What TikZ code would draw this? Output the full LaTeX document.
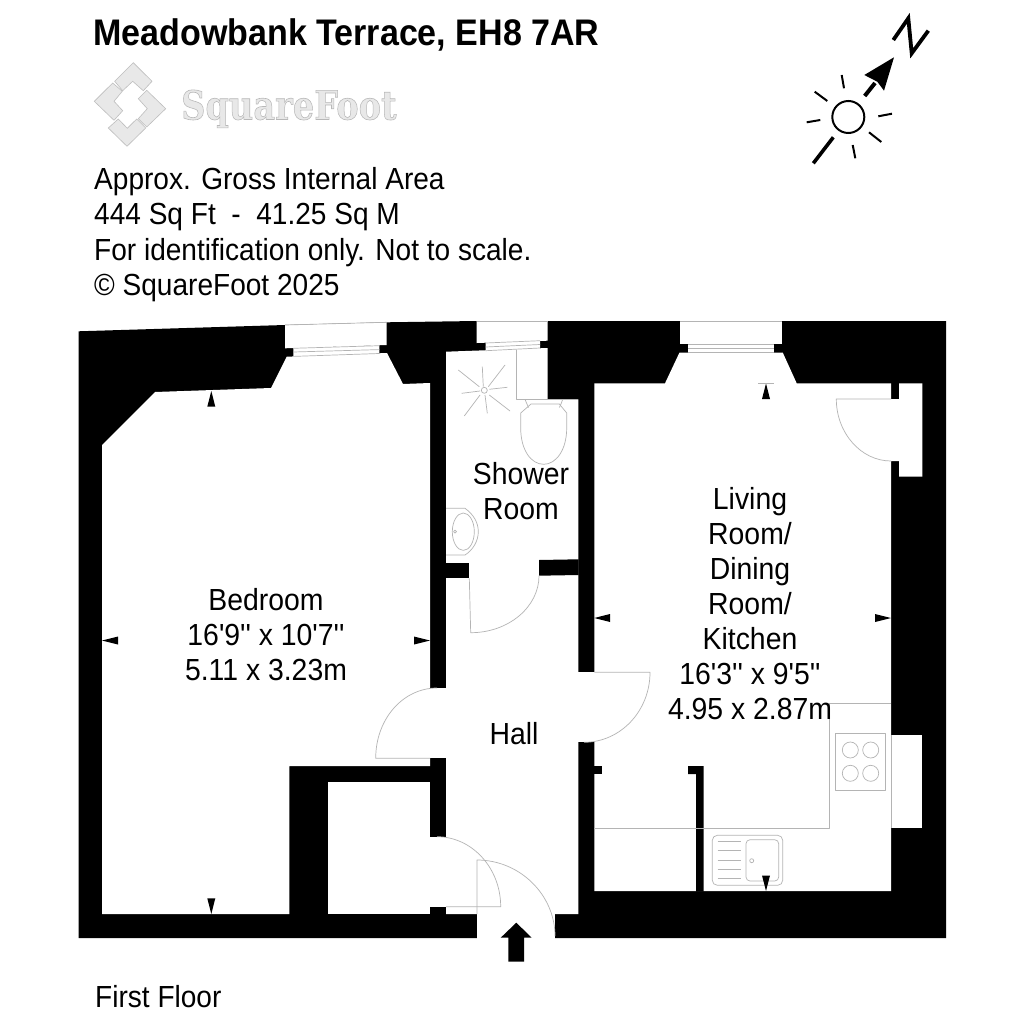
\documentclass[tikz,border=0pt]{standalone}
\usepackage{fontspec}
\setmainfont{Liberation Sans}
\newfontfamily\lab{Liberation Sans}
\newfontfamily\logofont{DejaVu Serif}
\definecolor{fixt}{HTML}{B4B4B4}
\definecolor{logofill}{HTML}{E8E8E8}
\definecolor{logoline}{HTML}{BEBEBE}
\newcommand{\lb}[1]{\scalebox{0.93}[1]{#1}}
\newcommand{\hb}[1]{\scalebox{0.92}[1]{#1}}
\tikzset{
  wall/.style={fill=black,draw=none},
  room/.style={fill=white,draw=none},
  fixture/.style={draw=fixt,line width=0.7pt,line join=round},
  tick/.style={fill=black,draw=none},
  tile/.style={fill=logofill,draw=logoline,line width=0.6pt},
  lbl/.style={font=\lab\fontsize{30.5}{35}\selectfont,anchor=base,inner sep=0pt,text=black},
  hdr/.style={font=\lab\fontsize{30.5}{35}\selectfont,anchor=base west,inner sep=0pt,text=black},
  comp/.style={draw=black,line width=2pt},
}
\begin{document}
\begin{tikzpicture}[x=1pt,y=-1pt]
\useasboundingbox (0,0) rectangle (1024,1024);
\fill[white] (0,0) rectangle (1024,1024);
% shell
\path[wall] (78.5,331.3) -- (285,325) -- (386.7,322.3) -- (477,321) -- (946,321) -- (946,938) -- (555,938) -- (555,914) -- (477,914) -- (477,938) -- (78.5,938) -- cycle;
% window recesses
\path[room] (285,325) -- (386.7,322.3) -- (386.7,345) -- (285,348.3) -- cycle;
\path[room] (293.3,347.5) -- (379.3,345) -- (379.3,354) -- (293.3,357) -- cycle;
\path[room] (476.7,320) -- (547.7,320) -- (547.7,340.7) -- (476.7,343) -- cycle;
\path[room] (485.7,342) -- (540,340.5) -- (540,349) -- (485.7,351) -- cycle;
\path[room] (680,320) rectangle (781.7,344);
\path[room] (688,343) rectangle (774,353);
% rooms
\path[room] (102,445) -- (155,392) -- (271,388) -- (286.7,356.7) -- (387,353) -- (403,384) -- (430,383) -- (430,766) -- (289.3,766) -- (289.3,914) -- (102,914) -- cycle;
\path[room] (425,688) rectangle (450,758.3);
\path[room] (328.3,781.7) rectangle (430,914);
\path[room] (425,836.7) rectangle (450,906.7);
\path[room] (446,351.7) -- (547.7,348) -- (547.7,399.3) -- (578.3,399.3) -- (578.3,914) -- (446,914) -- cycle;
\path[room] (570,672.3) rectangle (600,742.3);
\path[room] (594.3,383.3) -- (665,383.3) -- (679.5,352.5) -- (782.7,352.5) -- (796.7,383.3) -- (891,383.3) -- (891,399) -- (899,399) -- (899,383.3) -- (922.3,383.3) -- (922.3,476.7) -- (899,476.7) -- (899,461) -- (891,461) -- (891,891) -- (594.3,891) -- cycle;
\path[room] (885,735) rectangle (922.3,828.3);
\path[room] (477,905) rectangle (555,939);
% wall pieces
\path[wall] (446,562.7) rectangle (469.3,578.3);
\path[wall] (539,560) -- (578.6,559.3) -- (578.6,575) -- (539,575.7) -- cycle;
\path[wall] (430,906.7) rectangle (446,914.5);
\path[wall] (594,766) rectangle (602.3,774);
\path[wall] (688,766) -- (703.7,766) -- (703.7,891.5) -- (696,891.5) -- (696,774) -- (688,774) -- cycle;
% windows
\draw[fixture] (285,325) -- (386.7,322.3);
\draw[fixture] (293.3,348.3) -- (379.3,345.7);
\draw[fixture] (293.3,352) -- (379.3,349.6);
\draw[fixture] (293.3,356.4) -- (379.3,353.5);
\draw[fixture] (476.7,321) -- (547.7,321);
\draw[fixture] (485.7,343) -- (540,340.7);
\draw[fixture] (485.7,347) -- (540,344.5);
\draw[fixture] (485.7,350.7) -- (540,348);
\draw[fixture] (680,321) -- (781.7,321);
\draw[fixture] (688,344.3) -- (774,344.3);
\draw[fixture] (688,348.3) -- (774,348.3);
\draw[fixture] (688,352.3) -- (774,352.3);
\draw[fixture] (891,735) -- (891,828.3);
% doors
\draw[fixture] (430,758.3) -- (375.7,758.3) .. controls (375.7,719) and (403,688) .. (437,688);
\draw[fixture] (594.3,672.3) -- (650,672.3) .. controls (650,711) and (620.5,742.3) .. (584,742.3);
\draw[fixture] (891,399) -- (836.3,399) .. controls (836.3,433) and (861,461) .. (891,461);
\draw[fixture] (469.3,578.3) -- (470.7,632.7) .. controls (508.5,632.7) and (539,607) .. (539,575.7);
\draw[fixture] (446,906.7) -- (500.7,906.7) .. controls (500.7,868) and (472,836.7) .. (437,836.7);
\draw[fixture] (477,914) -- (477,860) .. controls (520,860) and (555,895) .. (555,936);
% shower
\draw[fixture] (484.3,390.3) circle (3);
\draw[fixture] (458.3,370) -- (479.3,386.7) (482.3,366.7) -- (483.3,386.7) (505,365) -- (488.3,386.7) (507.3,387.3) -- (489.3,389.3) (510,411) -- (489.3,395) (487.3,413.3) -- (485,395) (464.3,416) -- (480,395) (461.7,393.3) -- (480,391);
% wc
\draw[fixture] (516.7,349.5) -- (516.7,399.3) -- (578,399.3);
\draw[fixture] (525,399.3) .. controls (526,402) and (527,404) .. (528.5,407.5);
\draw[fixture] (562.7,399.3) .. controls (562,402) and (561,404) .. (559.3,407.5);
\draw[fixture] (531,404) -- (559.3,404) -- (566.7,413) -- (566.7,428) .. controls (566.7,450) and (556,464.3) .. (543.7,464.3) .. controls (531,464.3) and (520.7,450) .. (520.7,428) -- (520.7,413) -- cycle;
% basin
\draw[fixture] (446,508.3) -- (465,508.3) .. controls (473,514) and (478.3,522) .. (478.3,531.7) .. controls (478.3,541) and (473,550) .. (465,555) -- (446,555);
\draw[fixture] (463.3,531.7) ellipse [x radius=11pt,y radius=18.7pt];
\draw[fixture] (455,531.7) circle (1.5);
% kitchen
\draw[fixture] (594.3,828.3) -- (829,828.3) -- (829,703.7) -- (891,703.7);
\draw[fixture] (835.7,733.3) rectangle (885.7,790);
\draw[fixture] (850.3,750) circle (8) (870.7,750) circle (8) (850.3,773.3) circle (8) (870.7,773.3) circle (8);
\draw[fixture,rounded corners=5pt] (712.3,835.3) rectangle (782.7,885.3);
\draw[fixture,rounded corners=4pt] (746,839.7) rectangle (778.7,881);
\draw[fixture] (751.7,860.7) circle (2);
\draw[fixture] (717.7,841) -- (740.7,841) (717.7,850) -- (740.7,850) (717.7,860) -- (740.7,860) (717.7,869) -- (740.7,869) (717.7,878) -- (740.7,878);
% dimension ticks
\path[tick] (211.3,391) -- (215.3,406.7) -- (207.3,406.7) -- cycle;
\path[tick] (211.3,914) -- (207.3,898.3) -- (215.3,898.3) -- cycle;
\path[tick] (102,640.5) -- (118,636.5) -- (118,644.5) -- cycle;
\path[tick] (430,640.5) -- (414,636.5) -- (414,644.5) -- cycle;
\path[tick] (766,383.5) -- (770,399) -- (762,399) -- cycle;
\draw[fixture] (758,383.3) -- (774,383.3);
\path[tick] (766,891) -- (762,875.5) -- (770,875.5) -- cycle;
\path[tick] (594.3,618) -- (610,614) -- (610,622) -- cycle;
\path[tick] (891,618) -- (875,614) -- (875,622) -- cycle;
% entry arrow
\path[tick] (516.3,922.7) -- (531.7,937.7) -- (524,937.7) -- (524,961.7) -- (508.3,961.7) -- (508.3,937.7) -- (500.7,937.7) -- cycle;
% logo
\draw[tile] (133.3,62.7) -- (152,81.3) -- (143.3,90.7) -- (132.7,81.3) -- (122.7,90.7) -- (114.7,81.3) -- cycle;
\draw[tile] (112.7,83) -- (122.3,91.3) -- (114,101.3) -- (122.7,110.7) -- (114,120.3) -- (94.3,101.3) -- cycle;
\draw[tile] (146.7,90.3) -- (165.7,108.7) -- (146.7,127) -- (138.3,118.7) -- (147.3,108.7) -- (138.3,98.7) -- cycle;
\draw[tile] (118.3,119) -- (127.3,128.3) -- (136.7,119) -- (145.7,128) -- (127,146.3) -- (108.3,128) -- cycle;
\node[anchor=base west,inner sep=0pt,text=logofill] (logotext) at (181,119.5) {\logofont\bfseries\fontsize{40}{40}\selectfont\scalebox{0.84}[1]{\special{pdf:code q 2 Tr 0.6 w 0.72 0.72 0.72 RG}SquareFoot\special{pdf:code 0 Tr Q}}};
% compass
\draw[comp] (848.3,117) circle (16);
\draw[comp] (841.7,75) -- (844,88.3);
\draw[comp] (814.7,91.7) -- (827.3,101);
\draw[comp] (806.7,122.3) -- (820.3,120);
\draw[comp] (878.3,116.3) -- (892,113.7);
\draw[comp] (869,132.3) -- (881.3,142);
\draw[comp] (852.7,145) -- (855.3,158.3);
\draw[draw=black,line width=3.6pt] (813.3,163.3) -- (833.3,137.3);
\draw[draw=black,line width=4pt] (864.7,96) -- (875,83);
\path[tick] (894,57.3) -- (884,90.7) -- (877.3,81.7) -- (864.3,75) -- cycle;
\draw[draw=black,line width=3.8pt,line join=miter] (893.3,40) -- (908.3,18.3) -- (911.7,53.3) -- (928.3,30.7);
% text
\node[anchor=base west,inner sep=0pt,font=\lab\bfseries\fontsize{37}{40}\selectfont] (title) at (93,46) {\scalebox{0.92}[1]{Meadowbank Terrace, EH8 7AR}};
\node[hdr] (h1) at (94,190) {\hb{Approx. Gross Internal Area}};
\node[hdr] (h2) at (94,225) {\hb{444 Sq Ft \ - \ 41.25 Sq M}};
\node[hdr] (h3) at (94,260) {\hb{For identification only. Not to scale.}};
\node[hdr] (h4) at (94,295) {\hb{© SquareFoot 2025}};
\node[hdr] (floor) at (95,1007) {\hb{First Floor}};
\node[lbl] (bed1) at (266,610) {\lb{Bedroom}};
\node[lbl] (bed2) at (266,645) {\lb{16'9'' x 10'7''}};
\node[lbl] (bed3) at (266,680) {\lb{5.11 x 3.23m}};
\node[lbl] (sh1) at (521,484) {\lb{Shower}};
\node[lbl] (sh2) at (521,519) {\lb{Room}};
\node[lbl] (hall) at (514,744) {\lb{Hall}};
\node[lbl] (lv1) at (750,509) {\lb{Living}};
\node[lbl] (lv2) at (750,544) {\lb{Room/}};
\node[lbl] (lv3) at (750,579) {\lb{Dining}};
\node[lbl] (lv4) at (750,614) {\lb{Room/}};
\node[lbl] (lv5) at (750,649) {\lb{Kitchen}};
\node[lbl] (lv6) at (750,684) {\lb{16'3'' x 9'5''}};
\node[lbl] (lv7) at (750,719) {\lb{4.95 x 2.87m}};
\end{tikzpicture}
\end{document}
